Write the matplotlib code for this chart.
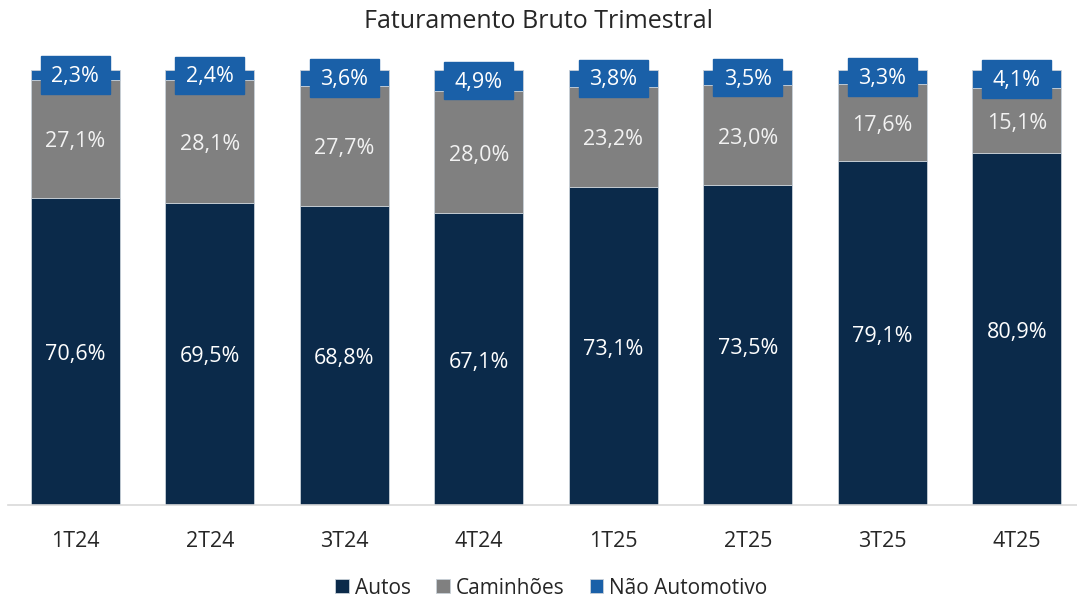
import numpy as np
import matplotlib.pyplot as plt
from matplotlib.patches import Rectangle

plt.rcParams['font.family'] = ['Open Sans', 'DejaVu Sans']

quarters = ['1T24', '2T24', '3T24', '4T24', '1T25', '2T25', '3T25', '4T25']
autos = [70.6, 69.5, 68.8, 67.1, 73.1, 73.5, 79.1, 80.9]
caminhoes = [27.1, 28.1, 27.7, 28.0, 23.2, 23.0, 17.6, 15.1]
nao_auto = [2.3, 2.4, 3.6, 4.9, 3.8, 3.5, 3.3, 4.1]

c_autos = '#0b2a4a'
c_cam = '#808080'
c_nao = '#1a60a8'

fig = plt.figure(figsize=(10.77, 5.98), dpi=100)
ax = fig.add_axes([8/1077, 93/598, 1076/1077, 435/598])

x = np.arange(len(quarters))
w = 0.66
a = np.array(autos)
c = np.array(caminhoes)
n = np.array(nao_auto)
# each bar normalised to 100% total
tot = a + c + n
a, c, n = a / tot * 100, c / tot * 100, n / tot * 100

ec = '#c8d0d8'
ax.bar(x, a, w, color=c_autos, edgecolor=ec, linewidth=0.6, label='Autos')
ax.bar(x, c, w, bottom=a, color=c_cam, edgecolor=ec, linewidth=0.6, label='Caminhões')
ax.bar(x, n, w, bottom=a + c, color=c_nao, edgecolor=ec, linewidth=0.6, label='Não Automotivo')

fs = 15.5
dy = -0.7  # small visual offset of labels
for i in range(len(x)):
    ax.text(x[i], a[i] / 2 + dy, f'{autos[i]:.1f}%'.replace('.', ','), ha='center', va='center',
            color='white', fontsize=fs)
    ax.text(x[i], a[i] + c[i] / 2 + dy, f'{caminhoes[i]:.1f}%'.replace('.', ','), ha='center',
            va='center', color='#f2f2f2', fontsize=fs)
    yc = a[i] + c[i] + n[i] / 2
    bw, bh = 0.513, 8.6
    ax.add_patch(Rectangle((x[i] - bw / 2, yc - bh / 2), bw, bh, color=c_nao,
                           clip_on=False, zorder=3))
    ax.text(x[i], yc + dy / 2, f'{nao_auto[i]:.1f}%'.replace('.', ','), ha='center', va='center',
            color='white', fontsize=fs, zorder=4, clip_on=False)

ax.set_xlim(-0.5, 7.5)
ax.set_ylim(0, 100)
ax.set_yticks([])
ax.set_xticks(x)
ax.set_xticklabels(quarters, fontsize=15.5, color='#262626')
ax.tick_params(axis='x', length=0, pad=19)
for s in ['top', 'right', 'left']:
    ax.spines[s].set_visible(False)
ax.spines['bottom'].set_color('#d9d9d9')
ax.spines['bottom'].set_linewidth(1.2)

fig.text(0.5, 1 - 21/598, 'Faturamento Bruto Trimestral', ha='center', va='center',
         fontsize=18, color='#262626')

h, l = ax.get_legend_handles_labels()
fig.legend(h, l, loc='center', bbox_to_anchor=(0.512, 1 - 588/598), ncol=3, frameon=False,
           fontsize=15, handlelength=0.65, handleheight=0.65, handletextpad=0.3,
           columnspacing=1.2, labelcolor='#262626')

fig.savefig('out.png', dpi=100)
